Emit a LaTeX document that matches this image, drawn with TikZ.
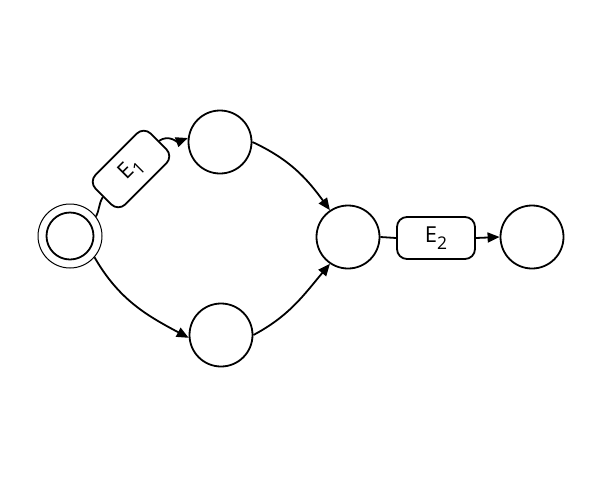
\documentclass[tikz,border=0pt]{standalone}
\usepackage{fontspec}
\setmainfont{Open Sans}
\usetikzlibrary{arrows.meta}
\newcommand{\evsub}[1]{\raisebox{-6.5pt}{\fontsize{17.5}{20}\selectfont #1}}
\begin{document}
\begin{tikzpicture}[x=1pt,y=-1pt,
  state/.style={circle,draw,line width=1.8pt,minimum size=63pt,inner sep=0pt},
  evbox/.style={rectangle,rounded corners=10pt,draw,line width=1.8pt,minimum width=78pt,minimum height=42pt,inner sep=0pt,font=\fontsize{22}{26}\selectfont},
  conn/.style={line width=1.8pt},
  arr/.style={conn,-{Triangle[length=12pt,width=10pt]}}]
\useasboundingbox (0,0) rectangle (596,482);
\node[circle,draw,line width=1pt,minimum size=64pt,inner sep=0pt] (so) at (70,236) {};
\node[state,minimum size=47pt] (si) at (70,236) {};
\node[state] (t) at (220,142) {};
\node[state] (b) at (221,335) {};
\node[state] (m) at (348,237) {};
\node[state] (f) at (532,237) {};
\node[evbox] (e2) at (436,238) {\raisebox{2pt}{E\evsub{2}}};
\node[evbox,rotate=45] (e1) at (131,169) {\raisebox{2pt}{E\evsub{1}}};
\draw[conn] (so.37) to[out=62,in=238] (e1.west);
\draw[arr] (e1.east) to[out=35,in=200] (t.173);
\draw[arr] (so.-41) to[out=-60,in=152] (b.185);
\draw[arr] (t.east) to[out=-25,in=126] (m.124);
\draw[arr] (b.east) to[out=28,in=-130] (m.-124);
\draw[conn] (m.east) -- (e2.west);
\draw[arr] (e2.east) -- (f.west);
\end{tikzpicture}
\end{document}
